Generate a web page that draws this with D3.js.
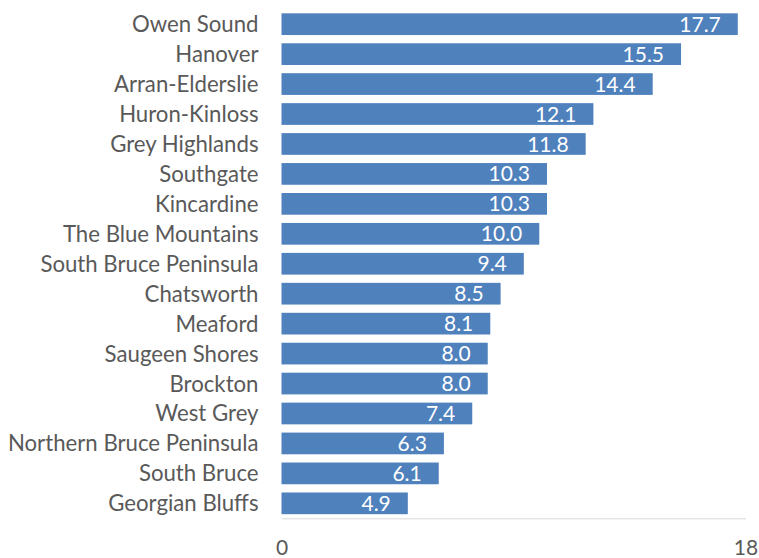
<!DOCTYPE html>
<html>
<head>
<meta charset="utf-8">
<script src="https://cdn.jsdelivr.net/npm/d3@7"></script>
<style>
  html, body { margin: 0; padding: 0; background: #fff; }
  svg { display: block; }
</style>
</head>
<body>
<div id="chart"></div>
<script>
// Municipalities, listed top to bottom
const categories = [
  "Owen Sound", "Hanover", "Arran-Elderslie", "Huron-Kinloss", "Grey Highlands",
  "Southgate", "Kincardine", "The Blue Mountains", "South Bruce Peninsula",
  "Chatsworth", "Meaford", "Saugeen Shores", "Brockton", "West Grey",
  "Northern Bruce Peninsula", "South Bruce", "Georgian Bluffs"
];
const values = [17.7, 15.5, 14.4, 12.1, 11.8, 10.3, 10.3, 10.0, 9.4, 8.5, 8.1, 8.0, 8.0, 7.4, 6.3, 6.1, 4.9];
const xTicks = [0, 18];

const width = 759, height = 558;
const margin = { left: 281.5, right: 13.5, top: 9.2, bottom: 39.7 };

const svg = d3.select("#chart").append("svg")
  .attr("width", width).attr("height", height);

const x = d3.scaleLinear()
  .domain([0, 18])
  .range([margin.left, width - margin.right]);

const y = d3.scaleBand()
  .domain(categories)
  .range([margin.top, height - margin.bottom])
  .paddingInner(0.275)
  .paddingOuter(0.1375);

const font = "Lato, 'Open Sans', sans-serif";

// bars
svg.append("g").selectAll("rect")
  .data(categories)
  .join("rect")
  .attr("x", x(0))
  .attr("y", d => y(d))
  .attr("width", (d, i) => x(values[i]) - x(0))
  .attr("height", y.bandwidth())
  .attr("fill", "#4f81bd");

// value labels inside bar ends
svg.append("g").selectAll("text")
  .data(categories)
  .join("text")
  .attr("x", (d, i) => x(values[i]) - 17)
  .attr("y", d => y(d) + y.bandwidth() / 2)
  .attr("dy", "0.36em")
  .attr("text-anchor", "end")
  .attr("fill", "#ffffff")
  .style("font-family", font)
  .style("font-size", "21px")
  .text((d, i) => values[i].toFixed(1));

// category axis
const yAxis = svg.append("g")
  .attr("transform", `translate(${x(0)},0)`)
  .call(d3.axisLeft(y).tickSize(0).tickPadding(23));
yAxis.select(".domain").remove();
yAxis.selectAll("text")
  .attr("dy", "0.36em")
  .attr("fill", "#595959")
  .style("font-family", font)
  .style("font-size", "22.2px");

// value axis
const xAxis = svg.append("g")
  .attr("transform", `translate(0,${height - margin.bottom})`)
  .call(d3.axisBottom(x).tickValues(xTicks).tickSize(0).tickPadding(22).tickFormat(d3.format("d")));
xAxis.select(".domain").attr("stroke", "#d9d9d9").attr("stroke-width", 1);
xAxis.selectAll("text")
  .attr("fill", "#595959")
  .style("font-family", font)
  .style("font-size", "21px");
</script>
</body>
</html>
